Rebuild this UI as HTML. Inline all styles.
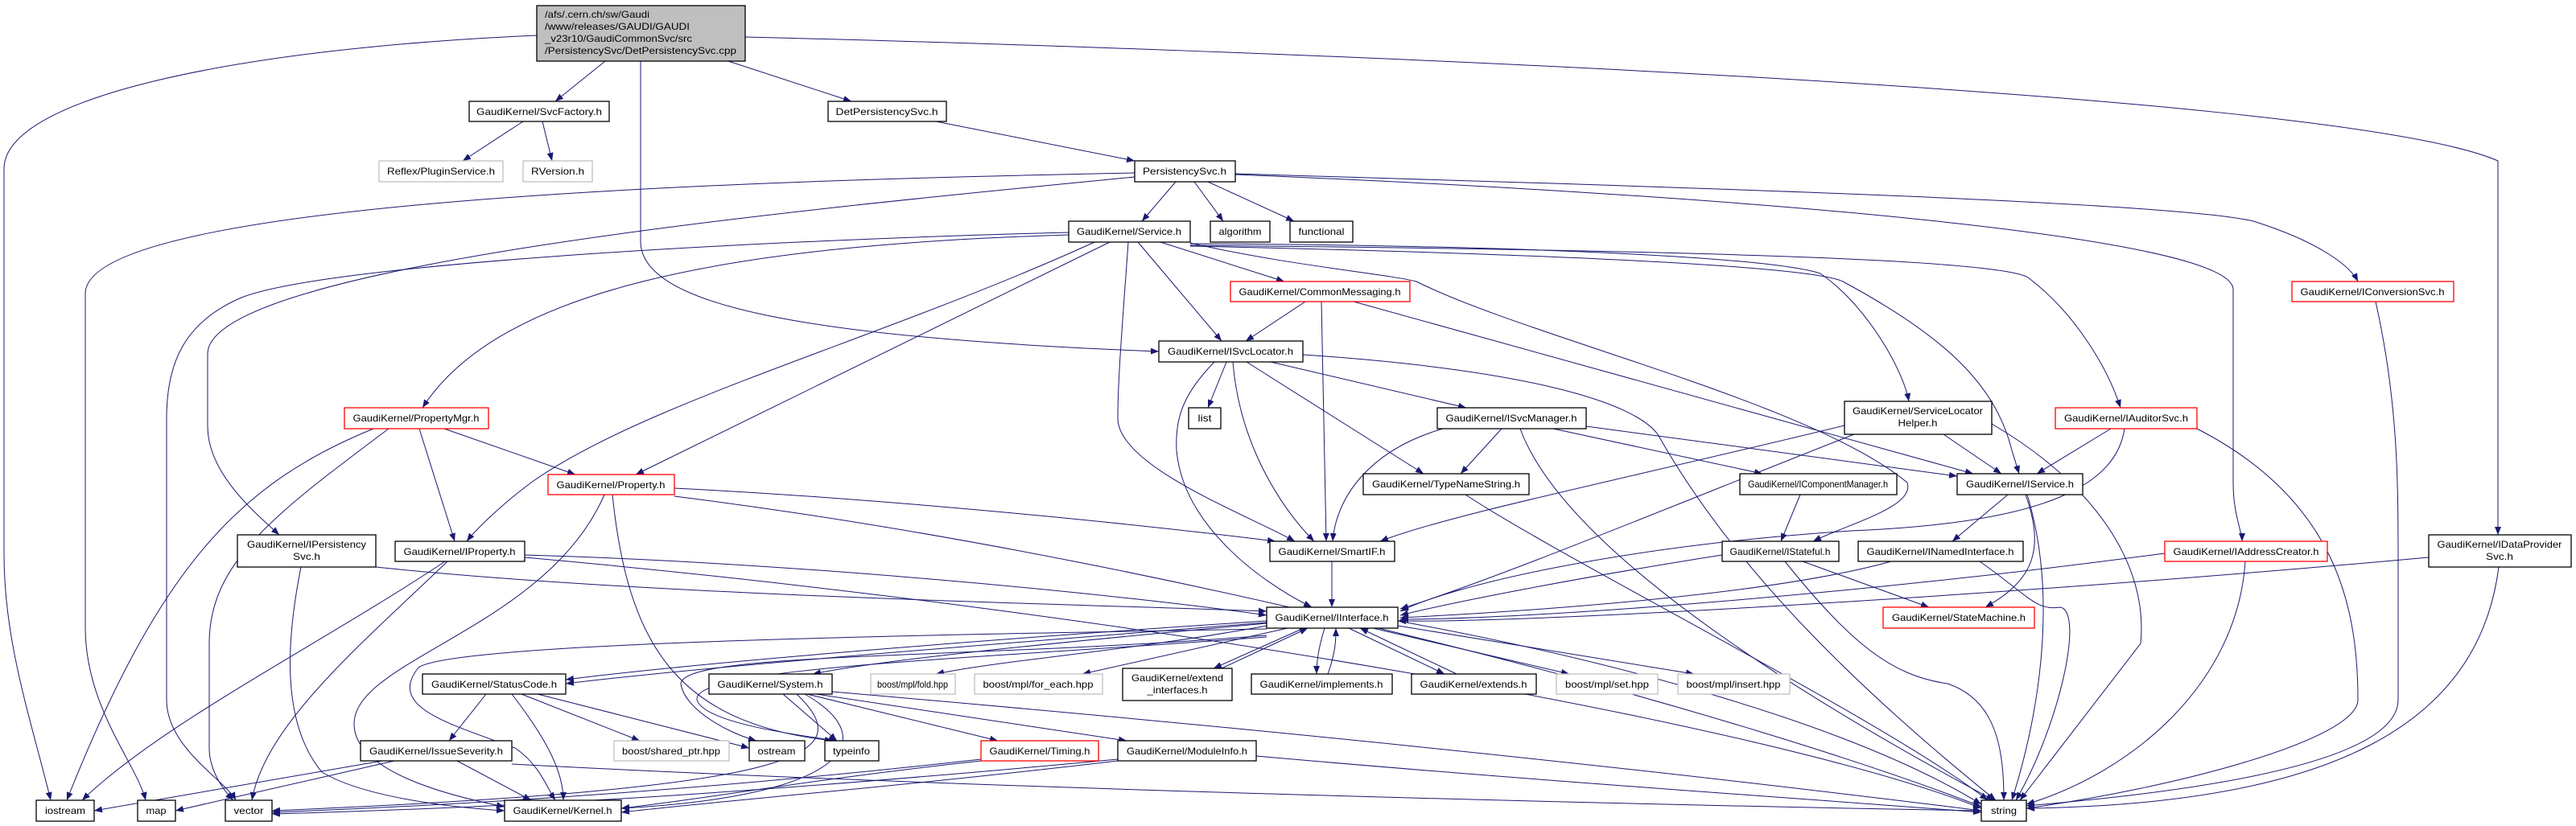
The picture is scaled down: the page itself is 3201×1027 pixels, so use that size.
<!DOCTYPE html>
<html><head><meta charset="utf-8"><style>
html,body{margin:0;padding:0;background:#fff;}
svg{display:block;}
text{font-family:"Liberation Sans",sans-serif;font-size:12px;fill:#000;}
.n{fill:#fff;stroke:#000;stroke-width:1.3;}
.g{fill:#fff;stroke:#bfbfbf;stroke-width:1.3;}
.r{fill:#fff;stroke:#ff0000;stroke-width:1.3;}
.e{fill:none;stroke:#191970;stroke-width:1;}
</style></head><body>
<svg width="3201" height="1027" viewBox="0 0 3201 1027" xmlns="http://www.w3.org/2000/svg">
<defs><marker id="a" viewBox="0 0 10 8" refX="10" refY="4" markerWidth="10" markerHeight="8" markerUnits="userSpaceOnUse" orient="auto"><path d="M0,0 L10,4 L0,8 z" fill="#191970"/></marker></defs>
<g class="e" marker-end="url(#a)">
<path d="M752,76 L690,126"/>
<path d="M905,76 L1058,126"/>
<path d="M796,76 L796,300 C796,380 1000,420 1440,437"/>
<path d="M667,44 C300,60 5,120 5,210 L5,690 C5,800 40,900 63,995"/>
<path d="M926,46 C1500,60 2900,110 3104,200 L3104,665"/>
<path d="M650,151 L575,200"/>
<path d="M674,151 L686,200"/>
<path d="M1163,151 L1410,200"/>
<path d="M1461,226 L1419,275"/>
<path d="M1484,226 L1520,275"/>
<path d="M1501,226 L1608,275"/>
<path d="M1410,215 C900,225 106,250 106,365 L106,780 C106,880 170,950 181,995"/>
<path d="M1410,220 C1000,260 258,330 258,440 L258,530 C258,590 320,640 347,665"/>
<path d="M1535,216 C2000,230 2700,250 2800,275 C2880,300 2920,330 2930,350"/>
<path d="M1535,217 C2100,240 2775,290 2775,360 L2775,600 C2775,640 2786,660 2786,673"/>
<path d="M1328,289 C900,300 400,330 300,370 C230,400 207,450 207,520 L207,870 C207,930 280,970 293,995"/>
<path d="M1328,292 C900,305 620,360 525,507"/>
<path d="M1442,301 L1596,350"/>
<path d="M1414,301 L1518,424"/>
<path d="M1379,301 L790,590"/>
<path d="M1360,301 C1100,420 800,500 660,600 C620,630 590,660 580,673"/>
<path d="M1402,301 C1395,400 1389,470 1389,520 C1389,580 1550,640 1609,673"/>
<path d="M1479,302 C1600,330 1720,340 1760,350 C1900,420 2250,500 2370,600 C2380,630 2300,650 2253,673"/>
<path d="M1479,303 C1900,305 2200,320 2262,340 C2320,380 2365,460 2372,499"/>
<path d="M1479,305 C2000,310 2480,320 2520,345 C2580,390 2620,460 2635,507"/>
<path d="M1479,306 C1900,315 2250,330 2290,350 C2420,420 2480,480 2500,560 L2509,589"/>
<path d="M1622,375 L1548,424"/>
<path d="M1642,375 L1648,673"/>
<path d="M1682,375 L2452,589"/>
<path d="M1524,450 L1501,507"/>
<path d="M1532,450 C1540,550 1590,630 1633,673"/>
<path d="M1549,450 L1769,589"/>
<path d="M1579,450 L1822,507"/>
<path d="M1509,450 C1470,490 1460,520 1462,560 C1470,650 1560,720 1630,755"/>
<path d="M1619,441 C1900,460 2030,500 2060,540 C2150,700 2300,850 2480,995"/>
<path d="M1793,533 C1700,560 1660,620 1656,673"/>
<path d="M1866,533 L1815,589"/>
<path d="M1930,533 L2190,589"/>
<path d="M1971,530 L2432,592"/>
<path d="M1889,533 C1950,700 2300,900 2478,995"/>
<path d="M1821,615 C1950,700 2350,900 2470,995"/>
<path d="M2415,540 L2487,589"/>
<path d="M2292,529 C2000,600 1800,640 1715,673"/>
<path d="M2304,540 C2100,620 1860,720 1740,757"/>
<path d="M2475,527 C2600,600 2670,700 2660,800 L2510,995"/>
<path d="M2623,533 L2531,589"/>
<path d="M2640,533 C2630,600 2550,650 2300,660 C2000,680 1800,730 1740,760"/>
<path d="M2730,533 C2900,620 2930,750 2930,870 C2930,920 2700,980 2518,1005"/>
<path d="M2495,615 L2426,673"/>
<path d="M2517,615 C2540,680 2530,720 2467,755"/>
<path d="M2519,615 C2560,750 2530,900 2500,995"/>
<path d="M2237,615 L2213,673"/>
<path d="M2240,698 L2397,755"/>
<path d="M2218,698 C2300,800 2350,840 2420,850 C2480,870 2490,930 2490,995"/>
<path d="M2140,690 C1950,720 1800,750 1740,765"/>
<path d="M2350,698 C2200,740 1900,760 1740,768"/>
<path d="M2460,698 C2520,740 2530,760 2560,755 C2590,760 2560,900 2505,995"/>
<path d="M2690,688 C2300,740 1900,770 1740,770"/>
<path d="M2790,698 C2780,850 2650,960 2518,1000"/>
<path d="M3018,693 C2500,740 1900,775 1737,772"/>
<path d="M3105,705 C3080,900 2900,1000 2518,1005"/>
<path d="M2952,375 C2980,500 2980,600 2980,700 L2980,870 C2980,960 2650,990 2518,1002"/>
<path d="M552,533 L715,590"/>
<path d="M521,533 L565,673"/>
<path d="M464,533 C300,600 200,700 83,995"/>
<path d="M483,533 C340,640 260,700 260,800 L260,930 C260,960 280,985 290,995"/>
<path d="M838,607 C1100,620 1400,650 1585,673"/>
<path d="M751,615 C680,780 440,820 440,900 C440,960 560,990 627,1003"/>
<path d="M761,615 C780,800 840,900 1035,921"/>
<path d="M838,617 C1500,700 2200,900 2462,1003"/>
<path d="M467,705 C800,740 1300,750 1574,760"/>
<path d="M374,705 C355,800 350,900 400,960 C450,990 550,1003 627,1008"/>
<path d="M652,690 C1000,700 1400,740 1574,765"/>
<path d="M553,698 C400,800 200,900 102,995"/>
<path d="M556,698 C450,800 330,900 313,995"/>
<path d="M652,693 C1400,760 2200,900 2462,1005"/>
<path d="M1655,698 L1655,755"/>
<path d="M1574,772 C1300,790 900,820 703,845"/>
<path d="M1574,774 C1300,796 900,826 703,850"/>
<path d="M1574,775 C1300,800 1100,820 1010,838"/>
<path d="M1574,778 C1400,810 1250,820 1163,838"/>
<path d="M1600,781 L1345,838"/>
<path d="M1620,781 L1508,831"/>
<path d="M1518,831 L1625,781"/>
<path d="M1646,781 C1640,800 1636,820 1636,838"/>
<path d="M1650,838 C1660,810 1660,795 1660,781"/>
<path d="M1676,781 L1795,838"/>
<path d="M1810,838 L1690,781"/>
<path d="M1706,781 L1950,838"/>
<path d="M1737,778 L2105,838"/>
<path d="M1574,782 C1100,790 560,800 520,830 C480,880 560,900 640,930 C670,950 680,980 690,995"/>
<path d="M1574,790 C1200,820 850,810 846,850 C850,880 900,910 940,921"/>
<path d="M1574,792 C1200,820 860,830 866,870 C875,900 1000,915 1040,921"/>
<path d="M1737,772 C2000,820 2300,900 2462,1000"/>
<path d="M604,863 L558,921"/>
<path d="M636,863 C680,920 700,960 700,995"/>
<path d="M648,863 L795,921"/>
<path d="M668,863 L931,930"/>
<path d="M973,863 L1040,921"/>
<path d="M1003,863 L1240,921"/>
<path d="M1014,863 L1400,921"/>
<path d="M1000,863 C1100,920 1050,990 772,1005"/>
<path d="M990,863 C1070,940 1000,980 338,1008"/>
<path d="M1034,860 C1500,900 2000,950 2462,1008"/>
<path d="M475,946 L117,1008"/>
<path d="M490,946 L218,1008"/>
<path d="M568,946 L660,995"/>
<path d="M636,950 C1200,980 2000,1000 2462,1008"/>
<path d="M1219,946 C1000,970 900,990 772,1005"/>
<path d="M1219,944 C900,980 600,1000 338,1010"/>
<path d="M1389,946 C1100,980 900,995 772,1010"/>
<path d="M1389,944 C900,990 600,1005 338,1012"/>
<path d="M1561,940 C1900,970 2200,990 2462,1010"/>
</g>
<rect x="667" y="7" width="259" height="69" fill="#bfbfbf" stroke="#000" stroke-width="1.3"/>
<text x="677" y="22" textLength="130" lengthAdjust="spacingAndGlyphs">/afs/.cern.ch/sw/Gaudi</text>
<text x="677" y="37" textLength="180" lengthAdjust="spacingAndGlyphs">/www/releases/GAUDI/GAUDI</text>
<text x="677" y="52" textLength="183" lengthAdjust="spacingAndGlyphs">_v23r10/GaudiCommonSvc/src</text>
<text x="677" y="67" textLength="238" lengthAdjust="spacingAndGlyphs">/PersistencySvc/DetPersistencySvc.cpp</text>
<g text-anchor="middle">
<rect class="n" x="583" y="126" width="174" height="25"/><text x="670" y="143" textLength="156" lengthAdjust="spacingAndGlyphs">GaudiKernel/SvcFactory.h</text>
<rect class="g" x="471" y="200" width="154" height="26"/><text x="548" y="217" textLength="134" lengthAdjust="spacingAndGlyphs">Reflex/PluginService.h</text>
<rect class="g" x="650" y="200" width="86" height="26"/><text x="693" y="217" textLength="66" lengthAdjust="spacingAndGlyphs">RVersion.h</text>
<rect class="n" x="1029" y="126" width="147" height="25"/><text x="1102" y="143" textLength="127" lengthAdjust="spacingAndGlyphs">DetPersistencySvc.h</text>
<rect class="n" x="1410" y="200" width="125" height="26"/><text x="1472" y="217" textLength="104" lengthAdjust="spacingAndGlyphs">PersistencySvc.h</text>
<rect class="n" x="1328" y="275" width="151" height="26"/><text x="1403" y="292" textLength="130" lengthAdjust="spacingAndGlyphs">GaudiKernel/Service.h</text>
<rect class="n" x="1504" y="275" width="74" height="26"/><text x="1541" y="292" textLength="53" lengthAdjust="spacingAndGlyphs">algorithm</text>
<rect class="n" x="1603" y="275" width="78" height="26"/><text x="1642" y="292" textLength="57" lengthAdjust="spacingAndGlyphs">functional</text>
<rect class="r" x="1529" y="350" width="223" height="25"/><text x="1640" y="367" textLength="201" lengthAdjust="spacingAndGlyphs">GaudiKernel/CommonMessaging.h</text>
<rect class="n" x="1440" y="424" width="179" height="26"/><text x="1529" y="441" textLength="156" lengthAdjust="spacingAndGlyphs">GaudiKernel/ISvcLocator.h</text>
<rect class="n" x="1477" y="507" width="40" height="26"/><text x="1497" y="524" textLength="17" lengthAdjust="spacingAndGlyphs">list</text>
<rect class="n" x="1786" y="507" width="185" height="26"/><text x="1878" y="524" textLength="163" lengthAdjust="spacingAndGlyphs">GaudiKernel/ISvcManager.h</text>
<rect class="n" x="2292" y="499" width="183" height="41"/><text x="2383" y="515" textLength="162" lengthAdjust="spacingAndGlyphs">GaudiKernel/ServiceLocator</text><text x="2383" y="530" textLength="49" lengthAdjust="spacingAndGlyphs">Helper.h</text>
<rect class="r" x="2554" y="507" width="176" height="26"/><text x="2642" y="524" textLength="154" lengthAdjust="spacingAndGlyphs">GaudiKernel/IAuditorSvc.h</text>
<rect class="r" x="2848" y="350" width="201" height="25"/><text x="2948" y="367" textLength="179" lengthAdjust="spacingAndGlyphs">GaudiKernel/IConversionSvc.h</text>
<rect class="r" x="428" y="507" width="179" height="26"/><text x="517" y="524" textLength="157" lengthAdjust="spacingAndGlyphs">GaudiKernel/PropertyMgr.h</text>
<rect class="r" x="681" y="590" width="157" height="25"/><text x="759" y="607" textLength="135" lengthAdjust="spacingAndGlyphs">GaudiKernel/Property.h</text>
<rect class="n" x="295" y="665" width="172" height="40"/><text x="381" y="681" textLength="148" lengthAdjust="spacingAndGlyphs">GaudiKernel/IPersistency</text><text x="381" y="696" textLength="34" lengthAdjust="spacingAndGlyphs">Svc.h</text>
<rect class="n" x="491" y="673" width="161" height="25"/><text x="571" y="690" textLength="139" lengthAdjust="spacingAndGlyphs">GaudiKernel/IProperty.h</text>
<rect class="n" x="1694" y="589" width="206" height="26"/><text x="1797" y="606" textLength="184" lengthAdjust="spacingAndGlyphs">GaudiKernel/TypeNameString.h</text>
<rect class="n" x="1578" y="673" width="155" height="25"/><text x="1655" y="690" textLength="133" lengthAdjust="spacingAndGlyphs">GaudiKernel/SmartIF.h</text>
<rect class="n" x="2162" y="589" width="195" height="26"/><text x="2259" y="606" textLength="174" lengthAdjust="spacingAndGlyphs">GaudiKernel/IComponentManager.h</text>
<rect class="n" x="2432" y="589" width="156" height="26"/><text x="2510" y="606" textLength="134" lengthAdjust="spacingAndGlyphs">GaudiKernel/IService.h</text>
<rect class="n" x="2140" y="673" width="145" height="25"/><text x="2212" y="690" textLength="125" lengthAdjust="spacingAndGlyphs">GaudiKernel/IStateful.h</text>
<rect class="n" x="2309" y="673" width="205" height="25"/><text x="2411" y="690" textLength="183" lengthAdjust="spacingAndGlyphs">GaudiKernel/INamedInterface.h</text>
<rect class="r" x="2690" y="673" width="202" height="25"/><text x="2791" y="690" textLength="181" lengthAdjust="spacingAndGlyphs">GaudiKernel/IAddressCreator.h</text>
<rect class="n" x="3018" y="665" width="177" height="40"/><text x="3106" y="681" textLength="155" lengthAdjust="spacingAndGlyphs">GaudiKernel/IDataProvider</text><text x="3106" y="696" textLength="34" lengthAdjust="spacingAndGlyphs">Svc.h</text>
<rect class="n" x="1574" y="755" width="163" height="26"/><text x="1655" y="772" textLength="141" lengthAdjust="spacingAndGlyphs">GaudiKernel/IInterface.h</text>
<rect class="r" x="2340" y="755" width="188" height="26"/><text x="2434" y="772" textLength="166" lengthAdjust="spacingAndGlyphs">GaudiKernel/StateMachine.h</text>
<rect class="n" x="525" y="838" width="178" height="25"/><text x="614" y="855" textLength="156" lengthAdjust="spacingAndGlyphs">GaudiKernel/StatusCode.h</text>
<rect class="n" x="881" y="838" width="153" height="25"/><text x="957" y="855" textLength="131" lengthAdjust="spacingAndGlyphs">GaudiKernel/System.h</text>
<rect class="g" x="1082" y="838" width="105" height="25"/><text x="1134" y="855" textLength="88" lengthAdjust="spacingAndGlyphs">boost/mpl/fold.hpp</text>
<rect class="g" x="1211" y="838" width="159" height="25"/><text x="1290" y="855" textLength="137" lengthAdjust="spacingAndGlyphs">boost/mpl/for_each.hpp</text>
<rect class="n" x="1395" y="831" width="136" height="40"/><text x="1463" y="847" textLength="114" lengthAdjust="spacingAndGlyphs">GaudiKernel/extend</text><text x="1463" y="862" textLength="75" lengthAdjust="spacingAndGlyphs">_interfaces.h</text>
<rect class="n" x="1555" y="838" width="175" height="25"/><text x="1642" y="855" textLength="153" lengthAdjust="spacingAndGlyphs">GaudiKernel/implements.h</text>
<rect class="n" x="1754" y="838" width="155" height="25"/><text x="1831" y="855" textLength="133" lengthAdjust="spacingAndGlyphs">GaudiKernel/extends.h</text>
<rect class="g" x="1934" y="838" width="126" height="25"/><text x="1997" y="855" textLength="104" lengthAdjust="spacingAndGlyphs">boost/mpl/set.hpp</text>
<rect class="g" x="2085" y="838" width="139" height="25"/><text x="2154" y="855" textLength="117" lengthAdjust="spacingAndGlyphs">boost/mpl/insert.hpp</text>
<rect class="n" x="448" y="921" width="188" height="25"/><text x="542" y="938" textLength="166" lengthAdjust="spacingAndGlyphs">GaudiKernel/IssueSeverity.h</text>
<rect class="g" x="763" y="921" width="143" height="25"/><text x="834" y="938" textLength="122" lengthAdjust="spacingAndGlyphs">boost/shared_ptr.hpp</text>
<rect class="n" x="931" y="921" width="69" height="25"/><text x="965" y="938" textLength="47" lengthAdjust="spacingAndGlyphs">ostream</text>
<rect class="n" x="1025" y="921" width="67" height="25"/><text x="1058" y="938" textLength="46" lengthAdjust="spacingAndGlyphs">typeinfo</text>
<rect class="r" x="1219" y="921" width="146" height="25"/><text x="1292" y="938" textLength="125" lengthAdjust="spacingAndGlyphs">GaudiKernel/Timing.h</text>
<rect class="n" x="1389" y="921" width="172" height="25"/><text x="1475" y="938" textLength="150" lengthAdjust="spacingAndGlyphs">GaudiKernel/ModuleInfo.h</text>
<rect class="n" x="45" y="995" width="72" height="26"/><text x="81" y="1012" textLength="50" lengthAdjust="spacingAndGlyphs">iostream</text>
<rect class="n" x="171" y="995" width="47" height="26"/><text x="194" y="1012" textLength="25" lengthAdjust="spacingAndGlyphs">map</text>
<rect class="n" x="280" y="995" width="58" height="26"/><text x="309" y="1012" textLength="37" lengthAdjust="spacingAndGlyphs">vector</text>
<rect class="n" x="627" y="995" width="145" height="26"/><text x="699" y="1012" textLength="123" lengthAdjust="spacingAndGlyphs">GaudiKernel/Kernel.h</text>
<rect class="n" x="2462" y="995" width="56" height="26"/><text x="2490" y="1012" textLength="32" lengthAdjust="spacingAndGlyphs">string</text>
</g>
</svg>
</body></html>
